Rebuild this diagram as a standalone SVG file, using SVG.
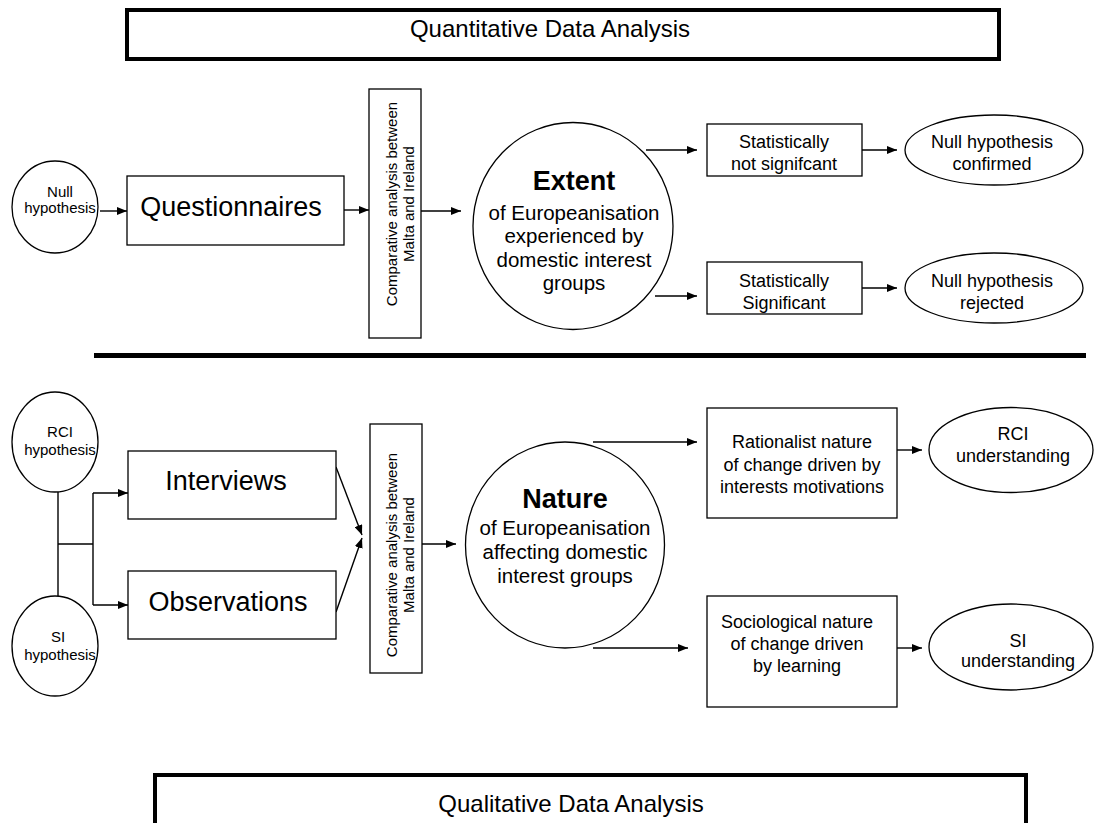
<svg xmlns="http://www.w3.org/2000/svg" width="1098" height="823" viewBox="0 0 1098 823">
  <defs>
    <marker id="arrow" markerUnits="userSpaceOnUse" markerWidth="10" markerHeight="8" refX="10" refY="4" orient="auto">
      <path d="M0,0 L10,4 L0,8 z" fill="#000"/>
    </marker>
    <style>
      text { font-family: "Liberation Sans", Arial, sans-serif; fill: #000; text-anchor: middle; }
      .shape { fill: #fff; stroke: #000; stroke-width: 1.3; }
      .frame { fill: #fff; stroke: #000; stroke-width: 4; }
      .link { fill: none; stroke: #000; stroke-width: 1.4; }
      .arr { fill: none; stroke: #000; stroke-width: 1.4; marker-end: url(#arrow); }
      .t15 { font-size: 15px; }
      .t18 { font-size: 18px; }
      .t20 { font-size: 20.5px; }
      .t24 { font-size: 24px; }
      .t27 { font-size: 27px; }
      .b27 { font-size: 27px; font-weight: bold; }
    </style>
  </defs>

  <rect width="1098" height="823" fill="#fff"/>

  <!-- section headers -->
  <g id="quantitative-header">
    <rect class="frame" x="127" y="10" width="872" height="49"/>
    <text class="t24" x="550" y="37">Quantitative Data Analysis</text>
  </g>
  <g id="qualitative-header">
    <rect class="frame" x="155" y="775" width="871" height="60"/>
    <text class="t24" x="571" y="812">Qualitative Data Analysis</text>
  </g>

  <!-- divider between the two analyses -->
  <rect id="divider" x="94" y="353" width="992" height="5" fill="#000"/>

  <!-- connectors -->
  <g id="connectors">
    <!-- quantitative strand -->
    <line class="arr" x1="100" y1="211" x2="127" y2="211"/>
    <line class="arr" x1="344" y1="210" x2="369" y2="210"/>
    <line class="arr" x1="421" y1="211" x2="461" y2="211"/>
    <line class="arr" x1="646" y1="150" x2="697" y2="150"/>
    <line class="arr" x1="655" y1="296" x2="697" y2="296"/>
    <line class="arr" x1="862" y1="150" x2="897" y2="150"/>
    <line class="arr" x1="862" y1="288" x2="897" y2="288"/>
    <!-- qualitative strand -->
    <line class="link" x1="58" y1="492" x2="58" y2="596"/>
    <line class="link" x1="58" y1="544" x2="93" y2="544"/>
    <line class="link" x1="93" y1="493" x2="93" y2="605"/>
    <line class="arr" x1="93" y1="493" x2="128" y2="493"/>
    <line class="arr" x1="93" y1="605" x2="128" y2="605"/>
    <line class="arr" x1="336" y1="467" x2="362" y2="535"/>
    <line class="arr" x1="336" y1="612" x2="362" y2="538"/>
    <line class="arr" x1="422" y1="544" x2="456" y2="544"/>
    <line class="arr" x1="593" y1="442" x2="697" y2="442"/>
    <line class="arr" x1="593" y1="648" x2="688" y2="648"/>
    <line class="arr" x1="897" y1="450" x2="922" y2="450"/>
    <line class="arr" x1="897" y1="648" x2="922" y2="648"/>
  </g>

  <!-- quantitative nodes -->
  <g id="null-hypothesis">
    <ellipse class="shape" cx="55" cy="207" rx="43" ry="46"/>
    <text class="t15" x="60" y="197">Null</text>
    <text class="t15" x="60" y="213">hypothesis</text>
  </g>
  <g id="questionnaires">
    <rect class="shape" x="127" y="176" width="217" height="69"/>
    <text class="t27" x="231" y="216">Questionnaires</text>
  </g>
  <g id="comparative-top">
    <rect class="shape" x="369" y="89" width="52" height="249"/>
    <text class="t15" transform="translate(397,204) rotate(-90)">Comparative analysis between</text>
    <text class="t15" transform="translate(414,204) rotate(-90)">Malta and Ireland</text>
  </g>
  <g id="extent">
    <ellipse class="shape" cx="573" cy="226" rx="100" ry="103.5"/>
    <text class="b27" x="574" y="190">Extent</text>
    <text class="t20" x="574" y="220">of Europeanisation</text>
    <text class="t20" x="574" y="243">experienced by</text>
    <text class="t20" x="574" y="267">domestic interest</text>
    <text class="t20" x="574" y="290">groups</text>
  </g>
  <g id="not-significant">
    <rect class="shape" x="707" y="124" width="155" height="52"/>
    <text class="t18" x="784" y="148">Statistically</text>
    <text class="t18" x="784" y="170">not signifcant</text>
  </g>
  <g id="significant">
    <rect class="shape" x="707" y="262" width="155" height="52"/>
    <text class="t18" x="784" y="287">Statistically</text>
    <text class="t18" x="784" y="309">Significant</text>
  </g>
  <g id="null-confirmed">
    <ellipse class="shape" cx="994" cy="150" rx="89" ry="35"/>
    <text class="t18" x="992" y="148">Null hypothesis</text>
    <text class="t18" x="992" y="170">confirmed</text>
  </g>
  <g id="null-rejected">
    <ellipse class="shape" cx="994" cy="288" rx="89" ry="35"/>
    <text class="t18" x="992" y="287">Null hypothesis</text>
    <text class="t18" x="992" y="309">rejected</text>
  </g>

  <!-- qualitative nodes -->
  <g id="rci-hypothesis">
    <ellipse class="shape" cx="55" cy="442" rx="43" ry="50"/>
    <text class="t15" x="60" y="437">RCI</text>
    <text class="t15" x="60" y="455">hypothesis</text>
  </g>
  <g id="si-hypothesis">
    <ellipse class="shape" cx="55" cy="646" rx="43" ry="50"/>
    <text class="t15" x="58" y="642">SI</text>
    <text class="t15" x="60" y="660">hypothesis</text>
  </g>
  <g id="interviews">
    <rect class="shape" x="128" y="451" width="208" height="68"/>
    <text class="t27" x="226" y="490">Interviews</text>
  </g>
  <g id="observations">
    <rect class="shape" x="128" y="571" width="208" height="68"/>
    <text class="t27" x="228" y="611">Observations</text>
  </g>
  <g id="comparative-bottom">
    <rect class="shape" x="370" y="424" width="52" height="249"/>
    <text class="t15" transform="translate(397,555) rotate(-90)">Comparative analysis between</text>
    <text class="t15" transform="translate(414,555) rotate(-90)">Malta and Ireland</text>
  </g>
  <g id="nature">
    <ellipse class="shape" cx="565" cy="545" rx="99.5" ry="103"/>
    <text class="b27" x="565" y="508">Nature</text>
    <text class="t20" x="565" y="535">of Europeanisation</text>
    <text class="t20" x="565" y="559">affecting domestic</text>
    <text class="t20" x="565" y="583">interest groups</text>
  </g>
  <g id="rationalist">
    <rect class="shape" x="707" y="408" width="190" height="110"/>
    <text class="t18" x="802" y="448">Rationalist nature</text>
    <text class="t18" x="802" y="471">of change driven by</text>
    <text class="t18" x="802" y="493">interests motivations</text>
  </g>
  <g id="sociological">
    <rect class="shape" x="707" y="596" width="190" height="111"/>
    <text class="t18" x="797" y="628">Sociological nature</text>
    <text class="t18" x="797" y="650">of change driven</text>
    <text class="t18" x="797" y="672">by learning</text>
  </g>
  <g id="rci-understanding">
    <ellipse class="shape" cx="1011" cy="450" rx="82" ry="42.5"/>
    <text class="t18" x="1013" y="440">RCI</text>
    <text class="t18" x="1013" y="462">understanding</text>
  </g>
  <g id="si-understanding">
    <ellipse class="shape" cx="1011" cy="647" rx="82" ry="43"/>
    <text class="t18" x="1018" y="647">SI</text>
    <text class="t18" x="1018" y="667">understanding</text>
  </g>
</svg>
